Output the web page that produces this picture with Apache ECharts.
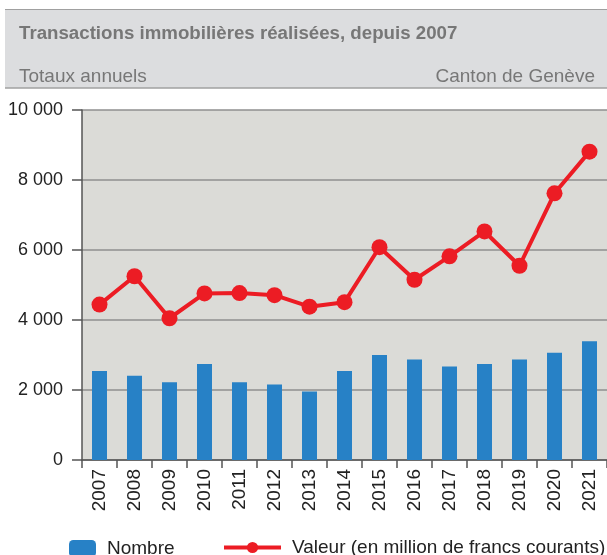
<!DOCTYPE html>
<html>
<head>
<meta charset="utf-8">
<script src="https://cdn.jsdelivr.net/npm/echarts@6/dist/echarts.min.js"></script>
<style>
  html, body { margin: 0; padding: 0; background: #fff; }
  #chart { width: 607px; height: 555px; }
</style>
</head>
<body>
<div id="chart"></div>
<script>
// données
var years = ['2007', '2008', '2009', '2010', '2011', '2012', '2013', '2014',
             '2015', '2016', '2017', '2018', '2019', '2020', '2021'];
var nombre = [2540, 2410, 2220, 2740, 2220, 2160, 1960, 2540,
              3000, 2875, 2675, 2740, 2875, 3065, 3390];
var valeur = [4440, 5250, 4050, 4760, 4770, 4710, 4380, 4510,
              6080, 5150, 5820, 6530, 5550, 7620, 8810];

var font = 'Liberation Sans, Arial, sans-serif';

function fmt(v) {
	return String(v).replace(/\B(?=(\d{3})+(?!\d))/g, ' ');
}

var chart = echarts.init(document.getElementById('chart'));

var option = {
	animation: false,
	textStyle: { fontFamily: font },
	graphic: [
		{
			type: 'rect',
			shape: { x: 5, y: 9, width: 602, height: 79 },
			style: { fill: '#dcdddf' },
			z: -10
		},
		{
			type: 'line',
			shape: { x1: 5, y1: 9.5, x2: 607, y2: 9.5 },
			style: { stroke: '#a0a0a0', lineWidth: 1 }
		},
		{
			type: 'line',
			shape: { x1: 5, y1: 88, x2: 607, y2: 88 },
			style: { stroke: '#a0a0a0', lineWidth: 1.5 }
		}
	],
	title: [
		{
			text: 'Transactions immobilières réalisées, depuis 2007',
			left: 14, top: 19,
			textStyle: { fontFamily: font, fontSize: 18.7, fontWeight: 'bold', color: '#777' }
		},
		{
			text: 'Totaux annuels',
			left: 14, top: 62,
			textStyle: { fontFamily: font, fontSize: 19, fontWeight: 'normal', color: '#777' }
		},
		{
			text: 'Canton de Genève',
			right: 7, top: 62,
			textStyle: { fontFamily: font, fontSize: 19, fontWeight: 'normal', color: '#777' }
		}
	],
	legend: [
		{
			data: ['Nombre'],
			left: 69, top: 539,
			itemWidth: 27, itemHeight: 17,
			itemGap: 12,
			textStyle: { fontFamily: font, fontSize: 19, color: '#222', padding: [0, 0, 0, 6] },
			padding: 0
		},
		{
			data: ['Valeur (en million de francs courants)'],
			left: 222, top: 538,
			itemWidth: 57, itemHeight: 14,
			lineStyle: { width: 4 },
			textStyle: { fontFamily: font, fontSize: 19, color: '#222', padding: [0, 0, 0, 6] },
			padding: 0
		}
	],
	grid: {
		left: 82, right: 0, top: 110, bottom: 95,
		show: true, backgroundColor: '#dbdbd7', borderWidth: 0
	},
	xAxis: {
		type: 'category',
		data: years,
		axisLine: { lineStyle: { color: '#555', width: 1.5 } },
		axisTick: { show: true, length: 8, lineStyle: { color: '#555', width: 1.5 } },
		axisLabel: { rotate: 90, fontSize: 19, color: '#222', margin: 9, fontFamily: font }
	},
	yAxis: {
		type: 'value',
		min: 0, max: 10000, interval: 2000,
		axisLine: { show: true, lineStyle: { color: '#555', width: 1.5 } },
		axisTick: { show: true, length: 10, lineStyle: { color: '#555', width: 1.5 } },
		splitLine: { lineStyle: { color: '#8f8f8f', width: 1.5 } },
		axisLabel: {
			fontSize: 18, color: '#222', margin: 19, fontFamily: font,
			formatter: function (v) { return fmt(v); }
		}
	},
	series: [
		{
			name: 'Nombre',
			type: 'bar',
			data: nombre,
			barWidth: 15,
			itemStyle: { color: '#2781c6' }
		},
		{
			name: 'Valeur (en million de francs courants)',
			type: 'line',
			data: valeur,
			symbol: 'circle',
			symbolSize: 16,
			lineStyle: { color: '#ec1c24', width: 4 },
			itemStyle: { color: '#ec1c24' }
		}
	]
};

chart.setOption(option);
</script>
</body>
</html>
